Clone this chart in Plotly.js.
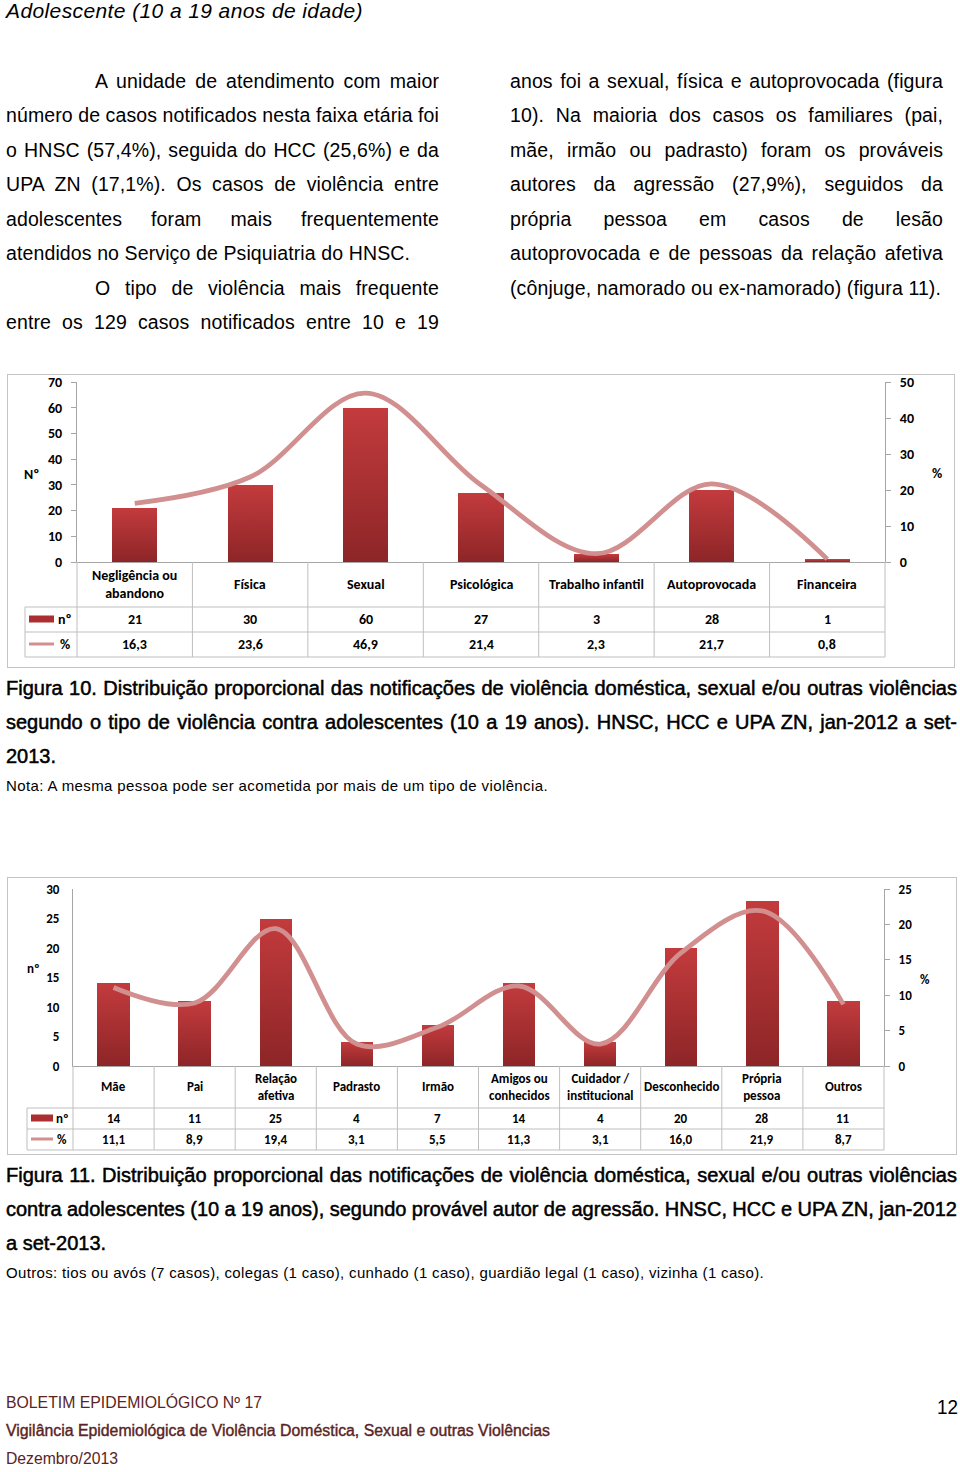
<!DOCTYPE html>
<html>
<head>
<meta charset="utf-8">
<script src="https://cdn.plot.ly/plotly-3.0.1.min.js"></script>
<style>
  html, body { margin:0; padding:0; background:#fff; }
  #page { position:relative; width:960px; height:1472px; overflow:hidden; font-family:"Liberation Sans", Arial, sans-serif; color:#000; }
  .ln { position:absolute; white-space:nowrap; }
  .body { font-size:19.5px; line-height:34px; height:34px; letter-spacing:0.1px; }
  .cap { font-size:20px; line-height:34px; height:34px; -webkit-text-stroke:0.5px #000; }
  .note { font-size:15px; line-height:20px; }
  .foot { font-size:16px; line-height:22px; color:#5a2424; }
  .box { position:absolute; border:1px solid #c4c4c4; box-sizing:border-box; }
  .chart { position:absolute; left:0; width:960px; }
</style>
</head>
<body>
<div id="page">
  <div class="ln" style="left:6px;top:0px;font-size:21px;line-height:22px;font-style:italic;" data-w="357" data-m="l">Adolescente (10 a 19 anos de idade)</div>

  <div class="ln body" style="left:95px;top:64px;" data-w="344" data-m="j">A unidade de atendimento com maior</div>
  <div class="ln body" style="left:6px;top:98px;" data-w="433" data-m="j">número de casos notificados nesta faixa etária foi</div>
  <div class="ln body" style="left:6px;top:133px;" data-w="433" data-m="j">o HNSC (57,4%), seguida do HCC (25,6%) e da</div>
  <div class="ln body" style="left:6px;top:167px;" data-w="433" data-m="j">UPA ZN (17,1%). Os casos de violência entre</div>
  <div class="ln body" style="left:6px;top:202px;" data-w="433" data-m="j">adolescentes foram mais frequentemente</div>
  <div class="ln body" style="left:6px;top:236px;" data-w="404" data-m="l">atendidos no Serviço de Psiquiatria do HNSC.</div>
  <div class="ln body" style="left:95px;top:271px;" data-w="344" data-m="j">O tipo de violência mais frequente</div>
  <div class="ln body" style="left:6px;top:305px;" data-w="433" data-m="j">entre os 129 casos notificados entre 10 e 19</div>

  <div class="ln body" style="left:510px;top:64px;" data-w="433" data-m="j">anos foi a sexual, física e autoprovocada (figura</div>
  <div class="ln body" style="left:510px;top:98px;" data-w="433" data-m="j">10). Na maioria dos casos os familiares (pai,</div>
  <div class="ln body" style="left:510px;top:133px;" data-w="433" data-m="j">mãe, irmão ou padrasto) foram os prováveis</div>
  <div class="ln body" style="left:510px;top:167px;" data-w="433" data-m="j">autores da agressão (27,9%), seguidos da</div>
  <div class="ln body" style="left:510px;top:202px;" data-w="433" data-m="j">própria pessoa em casos de lesão</div>
  <div class="ln body" style="left:510px;top:236px;" data-w="433" data-m="j">autoprovocada e de pessoas da relação afetiva</div>
  <div class="ln body" style="left:510px;top:271px;" data-w="431" data-m="l">(cônjuge, namorado ou ex-namorado) (figura 11).</div>

  <div class="box" style="left:7px;top:374px;width:948px;height:294px;"></div>
  <div id="chart1" class="chart" style="top:370px;height:300px;"></div>

  <div class="ln cap" style="left:6px;top:671px;" data-w="951" data-m="j">Figura 10. Distribuição proporcional das notificações de violência doméstica, sexual e/ou outras violências</div>
  <div class="ln cap" style="left:6px;top:705px;" data-w="951" data-m="j">segundo o tipo de violência contra adolescentes (10 a 19 anos). HNSC, HCC e UPA ZN, jan-2012 a set-</div>
  <div class="ln cap" style="left:6px;top:739px;">2013.</div>
  <div class="ln note" style="left:6px;top:776px;" data-w="542" data-m="l">Nota: A mesma pessoa pode ser acometida por mais de um tipo de violência.</div>

  <div class="box" style="left:7px;top:877px;width:950px;height:278px;"></div>
  <div id="chart2" class="chart" style="top:873px;height:285px;"></div>

  <div class="ln cap" style="left:6px;top:1158px;" data-w="951" data-m="j">Figura 11. Distribuição proporcional das notificações de violência doméstica, sexual e/ou outras violências</div>
  <div class="ln cap" style="left:6px;top:1192px;" data-w="951" data-m="j">contra adolescentes (10 a 19 anos), segundo provável autor de agressão. HNSC, HCC e UPA ZN, jan-2012</div>
  <div class="ln cap" style="left:6px;top:1226px;">a set-2013.</div>
  <div class="ln note" style="left:6px;top:1263px;" data-w="758" data-m="l">Outros: tios ou avós (7 casos), colegas (1 caso), cunhado (1 caso), guardião legal (1 caso), vizinha (1 caso).</div>

  <div class="ln foot" style="left:6px;top:1392px;" data-w="256" data-m="s">BOLETIM EPIDEMIOLÓGICO Nº 17</div>
  <div class="ln foot" style="left:6px;top:1420px;-webkit-text-stroke:0.4px #5a2424;" data-w="544" data-m="s">Vigilância Epidemiológica de Violência Doméstica, Sexual e outras Violências</div>
  <div class="ln foot" style="left:6px;top:1448px;" data-w="112" data-m="s">Dezembro/2013</div>
  <div class="ln" style="left:937px;top:1395px;font-size:20px;line-height:24px;" data-w="21" data-m="s">12</div>
</div>

<script>
// ---------------- DATA ----------------
const labels1 = ['Negligência ou<br>abandono', 'Física', 'Sexual', 'Psicológica', 'Trabalho infantil', 'Autoprovocada', 'Financeira'];
const counts1 = [21, 30, 60, 27, 3, 28, 1];
const pcts1 = [16.3, 23.6, 46.9, 21.4, 2.3, 21.7, 0.8];
const yTicks1 = [0, 10, 20, 30, 40, 50, 60, 70];
const y2Ticks1 = [0, 10, 20, 30, 40, 50];

const labels2 = ['Mãe', 'Pai', 'Relação<br>afetiva', 'Padrasto', 'Irmão', 'Amigos ou<br>conhecidos', 'Cuidador /<br>institucional', 'Desconhecido', 'Própria<br>pessoa', 'Outros'];
const counts2 = [14, 11, 25, 4, 7, 14, 4, 20, 28, 11];
const pcts2 = [11.1, 8.9, 19.4, 3.1, 5.5, 11.3, 3.1, 16.0, 21.9, 8.7];
const yTicks2 = [0, 5, 10, 15, 20, 25, 30];
const y2Ticks2 = [0, 5, 10, 15, 20, 25];

// ---------------- TEXT FITTING ----------------
document.querySelectorAll('.ln[data-w]').forEach(el => {
  const target = +el.dataset.w, mode = el.dataset.m;
  el.style.display = 'inline-block';
  const nat = el.getBoundingClientRect().width;
  const txt = el.textContent;
  if (mode === 'j') {
    const n = (txt.match(/ /g) || []).length;
    if (n) el.style.wordSpacing = ((target - nat) / n) + 'px';
  } else if (mode === 'l') {
    const cur = parseFloat(getComputedStyle(el).letterSpacing) || 0;
    el.style.letterSpacing = (cur + (target - nat) / txt.length) + 'px';
  } else if (mode === 's') {
    el.style.transformOrigin = '0 0';
    el.style.transform = 'scaleX(' + (target / nat) + ')';
  }
});

// ---------------- CHARTS ----------------
const BAR = '#ab2f31';
const LINE = '#d28f8f';
const GRID = '#bfbfbf';
const AXIS = '#a6a6a6';
const FONT = "Carlito, 'Liberation Sans Narrow', 'Liberation Sans', Arial, sans-serif";
const fmt = v => v.toFixed(1).replace('.', ',');

function addGradient(id) {
  const gd = document.getElementById(id);
  const svg = gd.querySelector('svg.main-svg');
  const ns = 'http://www.w3.org/2000/svg';
  let defs = svg.querySelector('defs');
  const lg = document.createElementNS(ns, 'linearGradient');
  lg.setAttribute('id', id + 'grad');
  lg.setAttribute('x1', '0'); lg.setAttribute('y1', '0');
  lg.setAttribute('x2', '0'); lg.setAttribute('y2', '1');
  [['0', '#c33b3d'], ['1', '#8d2527']].forEach(([o, c]) => {
    const s = document.createElementNS(ns, 'stop');
    s.setAttribute('offset', o); s.setAttribute('stop-color', c);
    lg.appendChild(s);
  });
  defs.appendChild(lg);
  gd.querySelectorAll('.barlayer .point path').forEach(p => { p.style.fill = 'url(#' + id + 'grad)'; });
}

function build(id, g, labels, counts, pcts, yTicks, y2Ticks, leftTitle, rightTitle, leftTickLen) {
  const n = labels.length;
  const idx = labels.map((_, i) => i);
  const W = g.r - g.l, H = g.pb - g.pt;
  const px = X => (X - g.l) / W;
  const py = Y => (g.pb - Y) / H;

  const bars = {
    type: 'bar', x: idx, y: counts, width: g.barW,
    marker: { color: BAR, line: { width: 0 } },
    hoverinfo: 'skip'
  };
  const line = {
    type: 'scatter', mode: 'lines', x: idx, y: pcts, yaxis: 'y2',
    line: { color: LINE, width: 4.8, shape: 'spline', smoothing: 1 },
    hoverinfo: 'skip', cliponaxis: false
  };

  const shapes = [];
  const gl = (x0, y0, x1, y1) => shapes.push({ type: 'line', xref: 'paper', yref: 'paper', x0, y0, x1, y1, line: { color: GRID, width: 1 } });
  for (let k = 0; k <= n; k++) gl(k / n, 0, k / n, py(g.rows[2]));
  gl(px(g.legL), py(g.rows[0]), 1, py(g.rows[0]));
  gl(px(g.legL), py(g.rows[1]), 1, py(g.rows[1]));
  gl(px(g.legL), py(g.rows[2]), 1, py(g.rows[2]));
  gl(px(g.legL), py(g.rows[0]), px(g.legL), py(g.rows[2]));
  shapes.push({ type: 'rect', xref: 'paper', yref: 'paper', x0: px(g.key[0]), x1: px(g.key[1]), y0: py(g.cy[1] - 3.5), y1: py(g.cy[1] + 3.5), fillcolor: BAR, line: { width: 0 } });
  shapes.push({ type: 'line', xref: 'paper', yref: 'paper', x0: px(g.key[0]), x1: px(g.key[1]), y0: py(g.cy[2]), y1: py(g.cy[2]), line: { color: LINE, width: 3 } });

  const annotations = [];
  const tf = { family: FONT, size: g.fs, color: '#000', weight: 'bold' };
  labels.forEach((lab, i) => {
    annotations.push({ xref: 'x', yref: 'paper', x: i, y: py(g.cy[0]), text: lab, showarrow: false, font: tf, yanchor: 'middle', xanchor: 'center' });
    annotations.push({ xref: 'x', yref: 'paper', x: i, y: py(g.cy[1]), text: String(counts[i]), showarrow: false, font: tf, yanchor: 'middle' });
    annotations.push({ xref: 'x', yref: 'paper', x: i, y: py(g.cy[2]), text: fmt(pcts[i]), showarrow: false, font: tf, yanchor: 'middle' });
  });
  annotations.push({ xref: 'paper', yref: 'paper', x: px(g.keyTxt), y: py(g.cy[1]), text: 'nº', showarrow: false, font: tf, xanchor: 'center', yanchor: 'middle' });
  annotations.push({ xref: 'paper', yref: 'paper', x: px(g.keyTxt), y: py(g.cy[2]), text: '%', showarrow: false, font: tf, xanchor: 'center', yanchor: 'middle' });
  annotations.push({ xref: 'paper', yref: 'paper', x: px(g.lt[0]), y: py(g.lt[1]), text: leftTitle, showarrow: false, font: tf, xanchor: 'center', yanchor: 'middle' });
  annotations.push({ xref: 'paper', yref: 'paper', x: px(g.rt[0]), y: py(g.rt[1]), text: rightTitle, showarrow: false, font: tf, xanchor: 'center', yanchor: 'middle' });

  const axFont = { family: FONT, size: g.fs, color: '#000', weight: 'bold' };
  const layout = {
    width: 960, height: g.h,
    margin: { l: g.l, r: 960 - g.r, t: g.pt - g.top, b: g.top + g.h - g.pb, pad: 0 },
    paper_bgcolor: 'rgba(0,0,0,0)', plot_bgcolor: 'rgba(0,0,0,0)',
    showlegend: false, bargap: 0,
    xaxis: { range: [-0.5, n - 0.5], showticklabels: false, ticks: '', showgrid: false, zeroline: false, showline: true, linecolor: AXIS, linewidth: 1, fixedrange: true },
    yaxis: { range: [0, yTicks[yTicks.length - 1]], tickvals: yTicks, ticks: leftTickLen ? 'outside' : '', ticklen: leftTickLen, tickcolor: AXIS, showgrid: false, zeroline: false, showline: true, linecolor: AXIS, tickfont: axFont, ticklabelstandoff: g.lso },
    yaxis2: { range: [0, y2Ticks[y2Ticks.length - 1]], tickvals: y2Ticks, overlaying: 'y', side: 'right', ticks: 'outside', ticklen: 5, tickcolor: AXIS, showgrid: false, zeroline: false, showline: true, linecolor: AXIS, tickfont: axFont, ticklabelstandoff: g.rso },
    shapes, annotations
  };
  return Plotly.newPlot(id, [bars, line], layout, { staticPlot: true, displayModeBar: false }).then(() => addGradient(id));
}

build('chart1', {
  top: 370, h: 300, l: 77, r: 885, pt: 382, pb: 562,
  rows: [607, 632, 657], cy: [584, 619, 644], legL: 25, key: [29, 54], keyTxt: 65,
  lt: [31, 475], rt: [937, 473], barW: 0.39, fs: 14, lso: 6, rso: 6
}, labels1, counts1, pcts1, yTicks1, y2Ticks1, 'Nº', '%', 5);

build('chart2', {
  top: 873, h: 285, l: 73, r: 884, pt: 889, pb: 1066,
  rows: [1108, 1129, 1150], cy: [1087, 1118, 1139], legL: 27, key: [31, 53], keyTxt: 62,
  lt: [33, 968], rt: [925, 979], barW: 0.4, fs: 13, lso: 10, rso: 6
}, labels2, counts2, pcts2, yTicks2, y2Ticks2, 'nº', '%', 0);
</script>
</body>
</html>
